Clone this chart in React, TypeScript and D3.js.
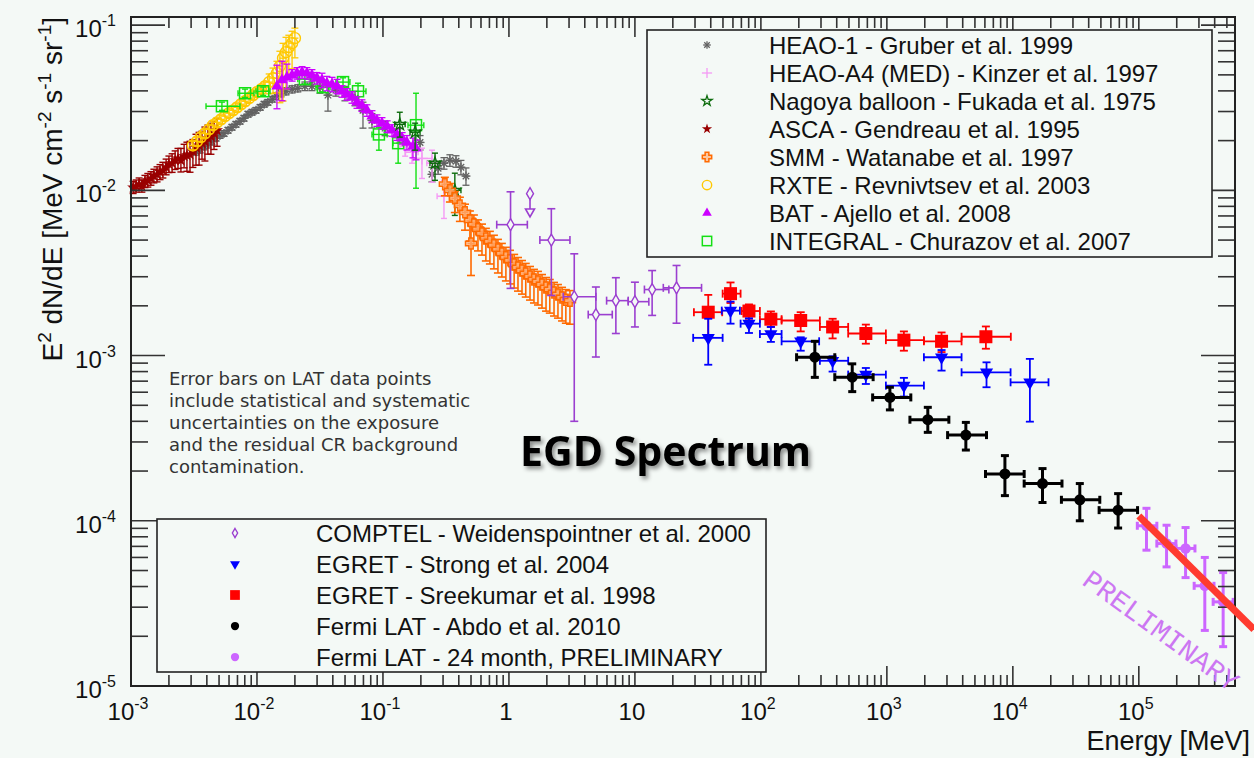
import React from 'react';
import * as d3 from 'd3';

const W = 1254;
const H = 758;
const BG = '#f4f9f6';

// ---------------- axis ticks ----------------
const xMajorTickValues = [1e-3, 1e-2, 1e-1, 1, 10, 1e2, 1e3, 1e4, 1e5];
const xTickLabels = [['10', '-3'], ['10', '-2'], ['10', '-1'], ['1', ''], ['10', ''], ['10', '2'], ['10', '3'], ['10', '4'], ['10', '5']];
const yMajorTickValues = [1e-5, 1e-4, 1e-3, 1e-2, 1e-1];
const yTickLabels = [['10', '-5'], ['10', '-4'], ['10', '-3'], ['10', '-2'], ['10', '-1']];

// ---------------- data ----------------
// dense series: [E (MeV), E2dN/dE, relative error down, relative error up]
const heao1 = [
  [3.28e-3, 1.72e-2, 0.05, 0.05], [3.53e-3, 1.77e-2, 0.05, 0.05], [3.80e-3, 1.85e-2, 0.05, 0.05],
  [4.08e-3, 1.90e-2, 0.05, 0.05], [4.39e-3, 1.98e-2, 0.05, 0.05], [4.73e-3, 2.07e-2, 0.04, 0.04],
  [5.08e-3, 2.15e-2, 0.04, 0.04], [5.47e-3, 2.21e-2, 0.04, 0.04], [5.89e-3, 2.31e-2, 0.04, 0.04],
  [6.33e-3, 2.41e-2, 0.04, 0.04], [6.81e-3, 2.51e-2, 0.04, 0.04], [7.33e-3, 2.62e-2, 0.04, 0.04],
  [7.88e-3, 2.73e-2, 0.04, 0.04], [8.49e-3, 2.89e-2, 0.04, 0.04], [9.13e-3, 2.97e-2, 0.04, 0.04],
  [9.82e-3, 3.05e-2, 0.04, 0.04], [1.06e-2, 3.18e-2, 0.04, 0.04], [1.14e-2, 3.32e-2, 0.04, 0.04],
  [1.22e-2, 3.41e-2, 0.04, 0.04], [1.32e-2, 3.56e-2, 0.04, 0.04], [1.42e-2, 3.72e-2, 0.05, 0.05],
  [1.55e-2, 3.87e-2, 0.05, 0.05], [1.70e-2, 3.98e-2, 0.05, 0.05], [1.90e-2, 4.09e-2, 0.05, 0.05],
  [2.11e-2, 4.15e-2, 0.05, 0.05], [2.40e-2, 4.27e-2, 0.06, 0.06], [2.73e-2, 4.27e-2, 0.06, 0.06],
  [3.16e-2, 4.21e-2, 0.08, 0.08], [3.66e-2, 3.77e-2, 0.2, 0.12], [4.23e-2, 4.04e-2, 0.08, 0.08],
  [4.99e-2, 3.87e-2, 0.1, 0.1], [6.00e-2, 3.61e-2, 0.1, 0.1], [6.94e-2, 3.05e-2, 0.22, 0.12],
  [8.18e-2, 2.65e-2, 0.1, 0.1], [0.104, 2.38e-2, 0.1, 0.1], [0.136, 2.15e-2, 0.1, 0.1],
  [0.197, 1.95e-2, 0.1, 0.1], [0.245, 1.25e-2, 0.1, 0.1], [0.274, 1.36e-2, 0.08, 0.08],
  [0.305, 1.46e-2, 0.08, 0.08], [0.340, 1.52e-2, 0.08, 0.08], [0.380, 1.50e-2, 0.08, 0.08],
  [0.416, 1.38e-2, 0.1, 0.1], [0.456, 1.22e-2, 0.12, 0.12],
];

const asca = [
  [1.04e-3, 1.04e-2, 0.08, 0.09], [1.10e-3, 1.06e-2, 0.08, 0.09], [1.16e-3, 1.09e-2, 0.08, 0.09],
  [1.22e-3, 1.06e-2, 0.08, 0.09], [1.29e-3, 1.13e-2, 0.08, 0.09], [1.36e-3, 1.15e-2, 0.09, 0.1],
  [1.44e-3, 1.18e-2, 0.09, 0.1], [1.52e-3, 1.22e-2, 0.09, 0.1], [1.61e-3, 1.25e-2, 0.1, 0.11],
  [1.70e-3, 1.29e-2, 0.1, 0.11], [1.79e-3, 1.32e-2, 0.1, 0.12], [1.90e-3, 1.38e-2, 0.1, 0.12],
  [2.00e-3, 1.44e-2, 0.11, 0.12], [2.12e-3, 1.46e-2, 0.12, 0.14], [2.24e-3, 1.52e-2, 0.12, 0.14],
  [2.36e-3, 1.56e-2, 0.13, 0.15], [2.49e-3, 1.52e-2, 0.15, 0.18], [2.64e-3, 1.61e-2, 0.15, 0.18],
  [2.78e-3, 1.63e-2, 0.2, 0.2], [2.94e-3, 1.65e-2, 0.22, 0.2], [3.10e-3, 1.72e-2, 0.2, 0.18],
  [3.28e-3, 1.82e-2, 0.22, 0.2], [3.47e-3, 1.87e-2, 0.24, 0.2], [3.66e-3, 1.93e-2, 0.2, 0.18],
  [3.86e-3, 1.98e-2, 0.24, 0.22], [4.08e-3, 2.07e-2, 0.2, 0.2], [4.31e-3, 2.12e-2, 0.22, 0.2],
  [4.56e-3, 2.21e-2, 0.2, 0.18], [4.82e-3, 2.31e-2, 0.2, 0.18],
];

const smm = [
  [0.310, 1.09e-2, 0.15, 0.1], [0.340, 1.00e-2, 0.15, 0.1], [0.372, 8.95e-3, 0.18, 0.1],
  [0.408, 8.11e-3, 0.2, 0.12], [0.448, 7.36e-3, 0.22, 0.12], [0.490, 6.58e-3, 0.25, 0.14],
  [0.500, 4.77e-3, 0.36, 0.32], [0.527, 6.22e-3, 0.25, 0.14], [0.568, 5.81e-3, 0.26, 0.14],
  [0.611, 5.48e-3, 0.26, 0.14], [0.656, 5.12e-3, 0.27, 0.15], [0.706, 4.91e-3, 0.27, 0.15],
  [0.760, 4.65e-3, 0.28, 0.15], [0.818, 4.39e-3, 0.28, 0.15], [0.879, 4.15e-3, 0.28, 0.15],
  [0.946, 3.93e-3, 0.28, 0.15], [1.02, 3.77e-3, 0.28, 0.15], [1.10, 3.56e-3, 0.28, 0.15],
  [1.18, 3.41e-3, 0.28, 0.15], [1.27, 3.27e-3, 0.28, 0.15], [1.36, 3.14e-3, 0.28, 0.15],
  [1.47, 3.01e-3, 0.28, 0.15], [1.58, 2.89e-3, 0.28, 0.15], [1.70, 2.81e-3, 0.28, 0.15],
  [1.83, 2.69e-3, 0.28, 0.15], [1.97, 2.58e-3, 0.28, 0.15], [2.11, 2.51e-3, 0.28, 0.15],
  [2.28, 2.41e-3, 0.28, 0.15], [2.45, 2.34e-3, 0.28, 0.15], [2.64, 2.25e-3, 0.28, 0.15],
  [2.83, 2.18e-3, 0.28, 0.15], [3.05, 2.15e-3, 0.28, 0.15],
];

const rxte = [
  [3.10e-3, 1.87e-2, 0.06, 0.06], [3.34e-3, 1.98e-2, 0.06, 0.06], [3.59e-3, 2.10e-2, 0.06, 0.06],
  [3.86e-3, 2.21e-2, 0.06, 0.06], [4.16e-3, 2.34e-2, 0.06, 0.06], [4.48e-3, 2.48e-2, 0.06, 0.06],
  [4.82e-3, 2.58e-2, 0.06, 0.06], [5.18e-3, 2.69e-2, 0.06, 0.06], [5.57e-3, 2.81e-2, 0.06, 0.06],
  [6.00e-3, 2.93e-2, 0.06, 0.06], [6.45e-3, 3.05e-2, 0.06, 0.06], [6.94e-3, 3.18e-2, 0.06, 0.06],
  [7.47e-3, 3.32e-2, 0.06, 0.06], [8.04e-3, 3.46e-2, 0.06, 0.06], [8.65e-3, 3.61e-2, 0.06, 0.06],
  [9.30e-3, 3.77e-2, 0.06, 0.06], [1.00e-2, 3.93e-2, 0.06, 0.06], [1.08e-2, 4.09e-2, 0.06, 0.06],
  [1.16e-2, 4.27e-2, 0.06, 0.06], [1.25e-2, 4.52e-2, 0.15, 0.12], [1.34e-2, 4.78e-2, 0.19, 0.15],
  [1.44e-2, 5.12e-2, 0.24, 0.18], [1.52e-2, 5.65e-2, 0.4, 0.23], [1.61e-2, 6.31e-2, 0.45, 0.23],
  [1.70e-2, 6.86e-2, 0.4, 0.23], [1.79e-2, 7.36e-2, 0.34, 0.18], [1.90e-2, 7.78e-2, 0.3, 0.18],
  [2.00e-2, 8.34e-2, 0.24, 0.15],
];

const bat = [
  [1.44e-2, 4.27e-2, 0.27, 0.34], [1.58e-2, 4.65e-2, 0.25, 0.3], [1.73e-2, 4.84e-2, 0.15, 0.2],
  [1.90e-2, 4.98e-2, 0.08, 0.08], [2.08e-2, 5.12e-2, 0.08, 0.08], [2.28e-2, 5.19e-2, 0.08, 0.08],
  [2.49e-2, 5.12e-2, 0.08, 0.08], [2.73e-2, 4.98e-2, 0.08, 0.08], [2.99e-2, 4.78e-2, 0.08, 0.08],
  [3.28e-2, 4.65e-2, 0.1, 0.1], [3.59e-2, 4.45e-2, 0.1, 0.1], [3.94e-2, 4.39e-2, 0.1, 0.1],
  [4.32e-2, 4.27e-2, 0.1, 0.1], [4.73e-2, 3.98e-2, 0.08, 0.08], [5.18e-2, 3.82e-2, 0.08, 0.08],
  [5.68e-2, 3.66e-2, 0.08, 0.08], [6.22e-2, 3.41e-2, 0.08, 0.08], [6.81e-2, 3.27e-2, 0.08, 0.08],
  [7.46e-2, 3.05e-2, 0.08, 0.08], [8.18e-2, 2.81e-2, 0.08, 0.08], [8.96e-2, 2.65e-2, 0.08, 0.08],
  [9.82e-2, 2.55e-2, 0.08, 0.08], [0.108, 2.44e-2, 0.08, 0.08], [0.118, 2.31e-2, 0.08, 0.08],
  [0.129, 2.18e-2, 0.08, 0.08], [0.142, 2.07e-2, 0.08, 0.08], [0.155, 1.95e-2, 0.1, 0.1],
  [0.173, 1.85e-2, 0.15, 0.12], [0.183, 1.80e-2, 0.15, 0.12],
];

// sparse series: [E, E2dN/dE, E low, E high, flux low, flux high]
const heaoA4 = [
  [0.150, 1.85e-2, 0.136, 0.167, 1.61e-2, 2.07e-2],
  [0.170, 1.70e-2, 0.151, 0.190, 1.46e-2, 1.93e-2],
  [0.204, 1.56e-2, 0.173, 0.245, 1.18e-2, 1.80e-2],
  [0.245, 1.46e-2, 0.223, 0.269, 1.12e-2, 1.75e-2],
  [0.305, 9.20e-3, 0.269, 0.372, 6.76e-3, 1.15e-2],
];

const nagoya = [
  [0.136, 2.51e-2, 0.124, 0.150, 2.10e-2, 2.97e-2],
  [0.180, 2.25e-2, 0.164, 0.197, 1.75e-2, 2.55e-2],
  [0.259, 1.46e-2, 0.236, 0.283, 1.15e-2, 1.68e-2],
  [0.372, 1.00e-2, 0.334, 0.416, 7.05e-3, 1.27e-2],
];

const integral = [
  [5.27e-3, 3.23e-2, 3.94e-3, 7.33e-3, 3.05e-2, 3.42e-2],
  [8.04e-3, 3.87e-2, 7.07e-3, 9.47e-3, 3.65e-2, 4.10e-2],
  [1.12e-2, 3.98e-2, 9.82e-3, 1.27e-2, 3.76e-2, 4.22e-2],
  [2.40e-2, 4.71e-2, 2.11e-2, 2.73e-2, 4.40e-2, 5.05e-2],
  [3.34e-2, 4.21e-2, 2.94e-2, 3.80e-2, 3.95e-2, 4.50e-2],
  [4.82e-2, 4.52e-2, 4.23e-2, 5.47e-2, 4.25e-2, 4.80e-2],
  [6.34e-2, 3.98e-2, 5.47e-2, 7.33e-2, 3.41e-2, 4.45e-2],
  [9.29e-2, 2.18e-2, 8.18e-2, 0.108, 1.75e-2, 2.41e-2],
  [0.132, 1.93e-2, 0.120, 0.144, 1.46e-2, 2.18e-2],
  [0.183, 2.48e-2, 0.158, 0.211, 1.03e-2, 3.87e-2],
];

const comptel = [
  [1.03, 6.2e-3, 0.80, 1.40, 2.55e-3, 9.8e-3],
  [2.17, 5.0e-3, 1.76, 3.05, 2.31e-3, 7.74e-3],
  [3.30, 2.27e-3, 2.70, 4.90, 4.0e-4, 4.13e-3],
  [4.90, 1.77e-3, 4.26, 6.61, 9.8e-4, 2.60e-3],
  [7.06, 2.15e-3, 5.96, 8.85, 1.36e-3, 2.96e-3],
  [10.0, 2.12e-3, 8.85, 12.9, 1.49e-3, 2.78e-3],
  [13.7, 2.51e-3, 11.9, 18.6, 1.75e-3, 3.27e-3],
  [21.4, 2.57e-3, 16.8, 33.8, 1.57e-3, 3.51e-3],
];
// upper limit: [E, value, arrow tip]
const comptelUpperLimit = [[1.47, 9.55e-3, 6.9e-3]];

const egretSreekumar = [
  [38.2, 1.83e-3, 29.4, 49.3, 1.27e-3, 2.33e-3],
  [57.4, 2.37e-3, 49.7, 69.0, 2.08e-3, 2.77e-3],
  [80.4, 1.86e-3, 70.3, 98.2, 1.67e-3, 2.04e-3],
  [120, 1.66e-3, 98.2, 146, 1.49e-3, 1.85e-3],
  [207, 1.63e-3, 146, 294, 1.40e-3, 1.83e-3],
  [371, 1.49e-3, 294, 493, 1.27e-3, 1.67e-3],
  [681, 1.36e-3, 493, 982, 1.18e-3, 1.54e-3],
  [1365, 1.24e-3, 982, 1968, 1.07e-3, 1.40e-3],
  [2717, 1.22e-3, 1968, 3917, 1.05e-3, 1.38e-3],
  [6109, 1.30e-3, 3917, 9638, 1.10e-3, 1.50e-3],
];

const egretStrong = [
  [38.2, 1.28e-3, 29.0, 49.7, 8.8e-4, 1.67e-3],
  [57.4, 1.87e-3, 48.9, 68.1, 1.56e-3, 2.12e-3],
  [80.4, 1.56e-3, 69.0, 98.2, 1.37e-3, 1.68e-3],
  [120, 1.35e-3, 98.2, 146, 1.21e-3, 1.49e-3],
  [207, 1.22e-3, 146, 290, 1.07e-3, 1.29e-3],
  [371, 9.3e-4, 294, 493, 8.0e-4, 9.9e-4],
  [681, 7.67e-4, 493, 982, 6.73e-4, 8.41e-4],
  [1365, 6.58e-4, 982, 1968, 5.65e-4, 7.33e-4],
  [2717, 9.77e-4, 1968, 3917, 8.11e-4, 1.08e-3],
  [6180, 7.92e-4, 3917, 9594, 6.43e-4, 9.10e-4],
  [13650, 6.89e-4, 9594, 19190, 3.98e-4, 9.55e-4],
];

const fermiAbdo = [
  [268, 9.77e-4, 192, 386, 7.38e-4, 1.22e-3],
  [531, 7.40e-4, 386, 778, 6.05e-4, 8.91e-4],
  [1057, 5.58e-4, 771, 1549, 4.69e-4, 6.43e-4],
  [2113, 4.09e-4, 1524, 3105, 3.43e-4, 4.86e-4],
  [4236, 3.30e-4, 3034, 6180, 2.68e-4, 3.94e-4],
  [8650, 1.92e-4, 6067, 12300, 1.42e-4, 2.48e-4],
  [17200, 1.68e-4, 12300, 24550, 1.29e-4, 2.07e-4],
  [34000, 1.34e-4, 24300, 49000, 1.00e-4, 1.68e-4],
  [68500, 1.16e-4, 48400, 97700, 9.04e-5, 1.46e-4],
];

const fermi24 = [
  [1.15e5, 9.33e-5, 9.73e4, 1.39e5, 6.64e-5, 1.19e-4],
  [1.66e5, 7.28e-5, 1.39e5, 1.97e5, 5.26e-5, 9.40e-5],
  [2.35e5, 6.80e-5, 1.97e5, 2.79e5, 4.53e-5, 9.10e-5],
  [3.34e5, 4.04e-5, 2.75e5, 3.95e5, 2.17e-5, 6.00e-5],
  [4.67e5, 3.23e-5, 3.89e5, 5.61e5, 1.73e-5, 4.86e-5],
];

const fitLine = [[1.0e5, 1.07e-4], [8.2e5, 2.2e-5]];

const legendTopLabels = [
  'HEAO-1 - Gruber et al. 1999',
  'HEAO-A4 (MED) - Kinzer et al. 1997',
  'Nagoya balloon - Fukada et al. 1975',
  'ASCA - Gendreau et al. 1995',
  'SMM - Watanabe et al. 1997',
  'RXTE - Revnivtsev et al. 2003',
  'BAT - Ajello et al. 2008',
  'INTEGRAL - Churazov et al. 2007',
];
const legendBottomLabels = [
  'COMPTEL - Weidenspointner et al. 2000',
  'EGRET - Strong et al. 2004',
  'EGRET - Sreekumar et al. 1998',
  'Fermi LAT - Abdo et al. 2010',
  'Fermi LAT - 24 month, PRELIMINARY',
];
const noteLines = [
  'Error bars on LAT data points',
  'include statistical and systematic',
  'uncertainties on the exposure',
  'and the residual CR background',
  'contamination.',
];

// ---------------- styles ----------------
const C = {
  heao1: '#626262', heaoA4: '#f59af5', nagoya: '#0b6b0b', asca: '#990000', smm: '#ff6a00',
  rxte: '#ffc800', bat: '#cc00ff', integral: '#14e014', comptel: '#9b3fd0', strong: '#0000ff',
  sreekumar: '#ff0000', abdo: '#000000', f24: '#cc66ff', fit: '#ff3b2f', prelim: '#cc77f2',
};

const M = { left: 131, right: 1235, top: 17, bottom: 686 };
const xScale = d3.scaleLog().domain([1e-3, 5.8e5]).range([M.left, M.right]);
const yScale = d3.scaleLog().domain([1e-5, 0.112]).range([M.bottom, M.top]);

const sym = (type: any, size: number) => d3.symbol().type(type).size(size)() as string;

function Marker({ kind, x, y, color, s = 1 }: any) {
  const t = `translate(${x},${y})`;
  switch (kind) {
    case 'asterisk': {
      const r = 4.5 * s, d = r * 0.72;
      return (
        <g stroke={color} strokeWidth={1.3}>
          <line x1={x - r} y1={y} x2={x + r} y2={y} />
          <line x1={x} y1={y - r} x2={x} y2={y + r} />
          <line x1={x - d} y1={y - d} x2={x + d} y2={y + d} />
          <line x1={x - d} y1={y + d} x2={x + d} y2={y - d} />
        </g>
      );
    }
    case 'plus': {
      const r = 6 * s;
      return (
        <g stroke={color} strokeWidth={1.3}>
          <line x1={x - r} y1={y} x2={x + r} y2={y} />
          <line x1={x} y1={y - r} x2={x} y2={y + r} />
        </g>
      );
    }
    case 'openStar':
      return <path d={sym(d3.symbolStar, 45 * s * s)} transform={t} fill="none" stroke={color} strokeWidth={1.3} />;
    case 'filledStar':
      return <path d={sym(d3.symbolStar, 45 * s * s)} transform={t} fill={color} />;
    case 'openCross': {
      const a = 5.5 * s, b = 2.2 * s;
      const d = `M${-b},${-a}L${b},${-a}L${b},${-b}L${a},${-b}L${a},${b}L${b},${b}L${b},${a}L${-b},${a}L${-b},${b}L${-a},${b}L${-a},${-b}L${-b},${-b}Z`;
      return <path d={d} transform={t} fill="#ffb27a" fillOpacity={0.7} stroke={color} strokeWidth={1.5} />;
    }
    case 'openCircle':
      return <circle cx={x} cy={y} r={5.5 * s} fill="none" stroke={color} strokeWidth={1.4} />;
    case 'triUp':
      return <path d={sym(d3.symbolTriangle, 55 * s * s)} transform={t} fill={color} />;
    case 'openSquare': {
      const h = 5.5 * s;
      return <rect x={x - h} y={y - h} width={2 * h} height={2 * h} fill="none" stroke={color} strokeWidth={1.5} />;
    }
    case 'openDiamond': {
      const w = 3.5 * s, h = 6 * s;
      return <path d={`M0,${-h}L${w},0L0,${h}L${-w},0Z`} transform={t} fill={BG} stroke={color} strokeWidth={1.4} />;
    }
    case 'triDown':
      return <path d={sym(d3.symbolTriangle, 75 * s * s)} transform={`${t} rotate(180)`} fill={color} />;
    case 'square': {
      const h = 6.5 * s;
      return <rect x={x - h} y={y - h} width={2 * h} height={2 * h} fill={color} />;
    }
    case 'circle':
      return <circle cx={x} cy={y} r={5.5 * s} fill={color} />;
    default:
      return null;
  }
}

function DenseSeries({ data, color, marker, lw = 1.3, cap = 3.5 }: any) {
  return (
    <g>
      <g stroke={color} strokeWidth={lw} fill="none">
        {data.map((p: number[], i: number) => {
          const [e, f, lo, hi] = p;
          const cx = xScale(e), cy = yScale(f);
          const y1 = yScale(f * (1 - lo)), y2 = yScale(f * (1 + hi));
          return (
            <g key={i}>
              <line x1={cx} x2={cx} y1={y1} y2={y2} />
              <line x1={cx - cap} x2={cx + cap} y1={y1} y2={y1} />
              <line x1={cx - cap} x2={cx + cap} y1={y2} y2={y2} />
              <line x1={cx - 3.5} x2={cx + 3.5} y1={cy} y2={cy} />
            </g>
          );
        })}
      </g>
      {data.map((p: number[], i: number) => (
        <Marker key={i} kind={marker} x={xScale(p[0])} y={yScale(p[1])} color={color} />
      ))}
    </g>
  );
}

function SparseSeries({ data, color, marker, lw = 1.8, cap = 4, ms = 1 }: any) {
  return (
    <g>
      <g stroke={color} strokeWidth={lw} fill="none">
        {data.map((p: number[], i: number) => {
          const [e, f, el, eh, fl, fh] = p;
          const cx = xScale(e), cy = yScale(f);
          const xl = xScale(el), xh = xScale(eh), yl = yScale(fl), yh = yScale(fh);
          return (
            <g key={i}>
              <line x1={xl} x2={xh} y1={cy} y2={cy} />
              <line x1={cx} x2={cx} y1={yl} y2={yh} />
              <line x1={xl} x2={xl} y1={cy - cap} y2={cy + cap} />
              <line x1={xh} x2={xh} y1={cy - cap} y2={cy + cap} />
              <line x1={cx - cap} x2={cx + cap} y1={yl} y2={yl} />
              <line x1={cx - cap} x2={cx + cap} y1={yh} y2={yh} />
            </g>
          );
        })}
      </g>
      {data.map((p: number[], i: number) => (
        <Marker key={i} kind={marker} x={xScale(p[0])} y={yScale(p[1])} color={color} s={ms} />
      ))}
    </g>
  );
}

const legendTopItems = [
  { kind: 'asterisk', color: C.heao1 }, { kind: 'plus', color: C.heaoA4 }, { kind: 'openStar', color: C.nagoya },
  { kind: 'filledStar', color: C.asca }, { kind: 'openCross', color: C.smm }, { kind: 'openCircle', color: C.rxte },
  { kind: 'triUp', color: C.bat }, { kind: 'openSquare', color: C.integral },
];
const legendBottomItems = [
  { kind: 'openDiamond', color: C.comptel }, { kind: 'triDown', color: C.strong }, { kind: 'square', color: C.sreekumar },
  { kind: 'circle', color: C.abdo }, { kind: 'circle', color: C.f24 },
];

export default function App() {
  const isMajor = (v: number) => Math.abs(Math.log10(v) - Math.round(Math.log10(v))) < 1e-6;
  const xTicks = xScale.ticks();
  const yTicks = yScale.ticks();
  const line = d3.line<number[]>().x((d) => xScale(d[0])).y((d) => yScale(d[1]));

  const tickStroke = '#333';
  return (
    <svg width={W} height={H} style={{ position: 'absolute', left: 0, top: 0, display: 'block' }}
      fontFamily="'Liberation Sans', Arial, Helvetica, sans-serif">
      <defs>
        <filter id="shadow" x="-10%" y="-40%" width="125%" height="190%">
          <feDropShadow dx="2.5" dy="3" stdDeviation="2" floodColor="#000" floodOpacity="0.45" />
        </filter>
      </defs>
      <rect x={0} y={0} width={W} height={H} fill={BG} />

      {/* data */}
      <DenseSeries data={heao1} color={C.heao1} marker="asterisk" />
      <SparseSeries data={heaoA4} color={C.heaoA4} marker="plus" lw={1.4} cap={3} />
      <DenseSeries data={asca} color={C.asca} marker="filledStar" lw={1.4} />
      <DenseSeries data={rxte} color={C.rxte} marker="openCircle" />
      <SparseSeries data={integral} color={C.integral} marker="openSquare" lw={1.4} cap={3} />
      <DenseSeries data={bat} color={C.bat} marker="triUp" />
      <SparseSeries data={nagoya} color={C.nagoya} marker="openStar" lw={1.4} cap={3} />
      <DenseSeries data={smm} color={C.smm} marker="openCross" lw={1.6} cap={4} />
      <SparseSeries data={comptel} color={C.comptel} marker="openDiamond" lw={1.6} cap={4} />
      {comptelUpperLimit.map((p, i) => {
        const cx = xScale(p[0]), cy = yScale(p[1]), ty = yScale(p[2]);
        return (
          <g key={i} stroke={C.comptel} strokeWidth={1.6}>
            <line x1={cx} x2={cx} y1={cy} y2={ty} />
            <path d={`M${cx - 4.5},${ty - 8}L${cx + 4.5},${ty - 8}L${cx},${ty}Z`} fill={BG} />
            <Marker kind="openDiamond" x={cx} y={cy} color={C.comptel} />
          </g>
        );
      })}
      <SparseSeries data={egretSreekumar} color={C.sreekumar} marker="square" lw={1.8} cap={4} />
      <SparseSeries data={egretStrong} color={C.strong} marker="triDown" lw={1.8} cap={4} />
      <SparseSeries data={fermiAbdo} color={C.abdo} marker="circle" lw={3} cap={4} />
      <SparseSeries data={fermi24} color={C.f24} marker="circle" lw={3} cap={4} ms={0.95} />

      {/* frame and ticks */}
      <g stroke={tickStroke} strokeWidth={1.6}>
        {xTicks.map((v, i) => {
          const x = xScale(v);
          const L = isMajor(v) ? 20 : 11;
          return (
            <g key={'x' + i}>
              <line x1={x} x2={x} y1={M.bottom} y2={M.bottom - L} />
              <line x1={x} x2={x} y1={M.top} y2={M.top + L} />
            </g>
          );
        })}
        {yTicks.map((v, i) => {
          const y = yScale(v);
          const L = isMajor(v) ? 34 : 17;
          return (
            <g key={'y' + i}>
              <line x1={M.left} x2={M.left + L} y1={y} y2={y} />
              <line x1={M.right} x2={M.right - L} y1={y} y2={y} />
            </g>
          );
        })}
      </g>
      <rect x={M.left} y={M.top} width={M.right - M.left} height={M.bottom - M.top} fill="none" stroke="#222" strokeWidth={2} />

      {/* fit line (extends past the frame) */}
      <path d={line(fitLine) as string} stroke={C.fit} strokeWidth={7} fill="none" />

      {/* tick labels */}
      <g fill="#111" fontSize={24}>
        {xMajorTickValues.map((v, i) => (
          <text key={i} x={xScale(v) - 3} y={720} textAnchor="middle">
            <tspan>{xTickLabels[i][0]}</tspan>
            {xTickLabels[i][1] && <tspan dy={-11} fontSize={16}>{xTickLabels[i][1]}</tspan>}
          </text>
        ))}
        {yMajorTickValues.map((v, i) => (
          <text key={i} x={116} y={yScale(v) + 12} textAnchor="end">
            <tspan>{yTickLabels[i][0]}</tspan>
            <tspan dy={-11} fontSize={16}>{yTickLabels[i][1]}</tspan>
          </text>
        ))}
      </g>

      {/* axis titles */}
      <text x={1250} y={750} textAnchor="end" fontSize={27} fill="#111">Energy [MeV]</text>
      <text transform="translate(62,17) rotate(-90)" textAnchor="end" fontSize={28} fill="#111">
        <tspan>E</tspan>
        <tspan dy={-11} fontSize={19}>2</tspan>
        <tspan dy={11}> dN/dE [MeV cm</tspan>
        <tspan dy={-11} fontSize={19}>-2</tspan>
        <tspan dy={11}> s</tspan>
        <tspan dy={-11} fontSize={19}>-1</tspan>
        <tspan dy={11}> sr</tspan>
        <tspan dy={-11} fontSize={19}>-1</tspan>
        <tspan dy={11}>]</tspan>
      </text>

      {/* legend top */}
      <g>
        <rect x={647} y={30} width={565} height={227} fill={BG} stroke="#222" strokeWidth={1.6} />
        {legendTopLabels.map((lab, i) => {
          const cy = 45 + i * 28;
          return (
            <g key={i}>
              <Marker kind={legendTopItems[i].kind} x={707} y={cy} color={legendTopItems[i].color} s={0.85} />
              <text x={769} y={cy + 8.5} fontSize={24} fill="#111">{lab}</text>
            </g>
          );
        })}
      </g>

      {/* legend bottom */}
      <g>
        <rect x={157} y={519} width={609} height={153} fill={BG} stroke="#222" strokeWidth={1.6} />
        {legendBottomLabels.map((lab, i) => {
          const cy = 533 + i * 31;
          return (
            <g key={i}>
              <Marker kind={legendBottomItems[i].kind} x={235} y={cy} color={legendBottomItems[i].color} s={0.75} />
              <text x={316} y={cy + 8.5} fontSize={24} fill="#111">{lab}</text>
            </g>
          );
        })}
      </g>

      {/* note */}
      <g fontFamily="'DejaVu Sans', Verdana, sans-serif" fontSize={18} fill="#333">
        {noteLines.map((t, i) => (
          <text key={i} x={169} y={385 + i * 22}>{t}</text>
        ))}
      </g>

      {/* title with shadow */}
      <text x={520} y={466} fill="#000" filter="url(#shadow)"
        fontFamily="'Open Sans', 'DejaVu Sans', sans-serif" fontWeight={700} fontSize={41}>EGD Spectrum</text>

      {/* PRELIMINARY watermark */}
      <text x={1160} y={632} transform="rotate(36,1160,632)" textAnchor="middle" dominantBaseline="central"
        fontFamily="'Liberation Mono', 'DejaVu Sans Mono', monospace" fontSize={28} fill={C.prelim}>
        PRELIMINARY
      </text>
    </svg>
  );
}
